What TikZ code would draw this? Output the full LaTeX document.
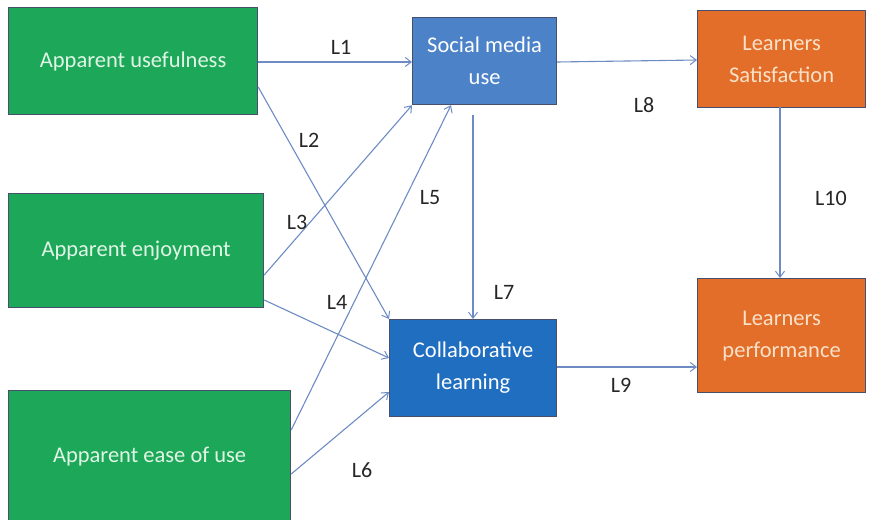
\documentclass[tikz,border=0pt]{standalone}
\usepackage{fontspec}
\setmainfont{Carlito}
\usetikzlibrary{arrows.meta}
\definecolor{boxgreen}{RGB}{28,168,88}
\definecolor{smblue}{RGB}{76,130,200}
\definecolor{clblue}{RGB}{32,110,192}
\definecolor{orng}{RGB}{226,110,42}
\definecolor{edge}{RGB}{70,80,110}
\definecolor{arr}{RGB}{110,140,195}
\definecolor{txtgreen}{RGB}{225,245,230}
\definecolor{txtorng}{RGB}{250,225,200}
\tikzset{
  x=1pt, y=-1pt,
  box/.style={draw=edge, line width=1.2pt, anchor=north west, inner sep=0pt, align=center, font=\fontsize{22.5}{32}\selectfont},
  gbox/.style={box, fill=boxgreen, text=txtgreen},
  bbox/.style={box, fill=smblue, text=white},
  cbox/.style={box, fill=clblue, text=white},
  obox/.style={box, fill=orng, text=txtorng},
  link/.style={draw=arr, line width=1.1pt, -{Straight Barb[length=6pt,width=9pt,line width=1pt]}},
  lab/.style={font=\fontsize{22}{26}\selectfont, text=black!85}
}
\begin{document}
\begin{tikzpicture}
\useasboundingbox (0,0) rectangle (869,519);
\fill[white] (0,0) rectangle (869,519);
\node[gbox, minimum width=249pt, minimum height=107pt] (au) at (8,7) {Apparent usefulness};
\node[gbox, minimum width=255pt, minimum height=114pt] (ae) at (8,193) {Apparent enjoyment};
\node[gbox, minimum width=282pt, minimum height=132pt] (ea) at (8,390) {Apparent ease of use};
\node[bbox, minimum width=144pt, minimum height=87pt] (sm) at (412,17) {Social media\\use};
\node[cbox, minimum width=167pt, minimum height=97pt] (cl) at (389,319) {Collaborative\\learning};
\node[obox, minimum width=168pt, minimum height=97pt] (ls) at (697,10) {Learners\\Satisfaction};
\node[obox, minimum width=168pt, minimum height=114pt] (lp) at (697,278) {Learners\\performance};

\coordinate (smb) at (473,115);
\coordinate (lsb) at (780,107);

\draw[link] (au.east |- 0,62) -- (sm.west |- 0,62);
\draw[link] (au.east |- 0,87) -- (cl.north west);
\draw[link] (ae.east |- 0,275) -- (sm.south west);
\draw[link] (ea.east |- 0,430) -- (sm.south west -| 451,0);
\draw[link] (ae.east |- 0,300) -- (cl.west |- 0,358);
\draw[link] (ea.east |- 0,474) -- (cl.west |- 0,392);
\draw[link] (smb) -- (cl.north -| 473,0);
\draw[link] (sm.east |- 0,62) -- (ls.west |- 0,60);
\draw[link] (cl.east |- 0,367) -- (lp.west |- 0,367);
\draw[link] (lsb) -- (lp.north -| 780,0);

\node[lab] (l1) at (341,47) {L1};
\node[lab] (l2) at (309,140) {L2};
\node[lab] (l3) at (297,222) {L3};
\node[lab] (l4) at (337,302) {L4};
\node[lab] (l5) at (430,198) {L5};
\node[lab] (l6) at (362,470) {L6};
\node[lab] (l7) at (504,292) {L7};
\node[lab] (l8) at (644,105) {L8};
\node[lab] (l9) at (621,385) {L9};
\node[lab] (l10) at (831,198) {L10};
\end{tikzpicture}
\end{document}
